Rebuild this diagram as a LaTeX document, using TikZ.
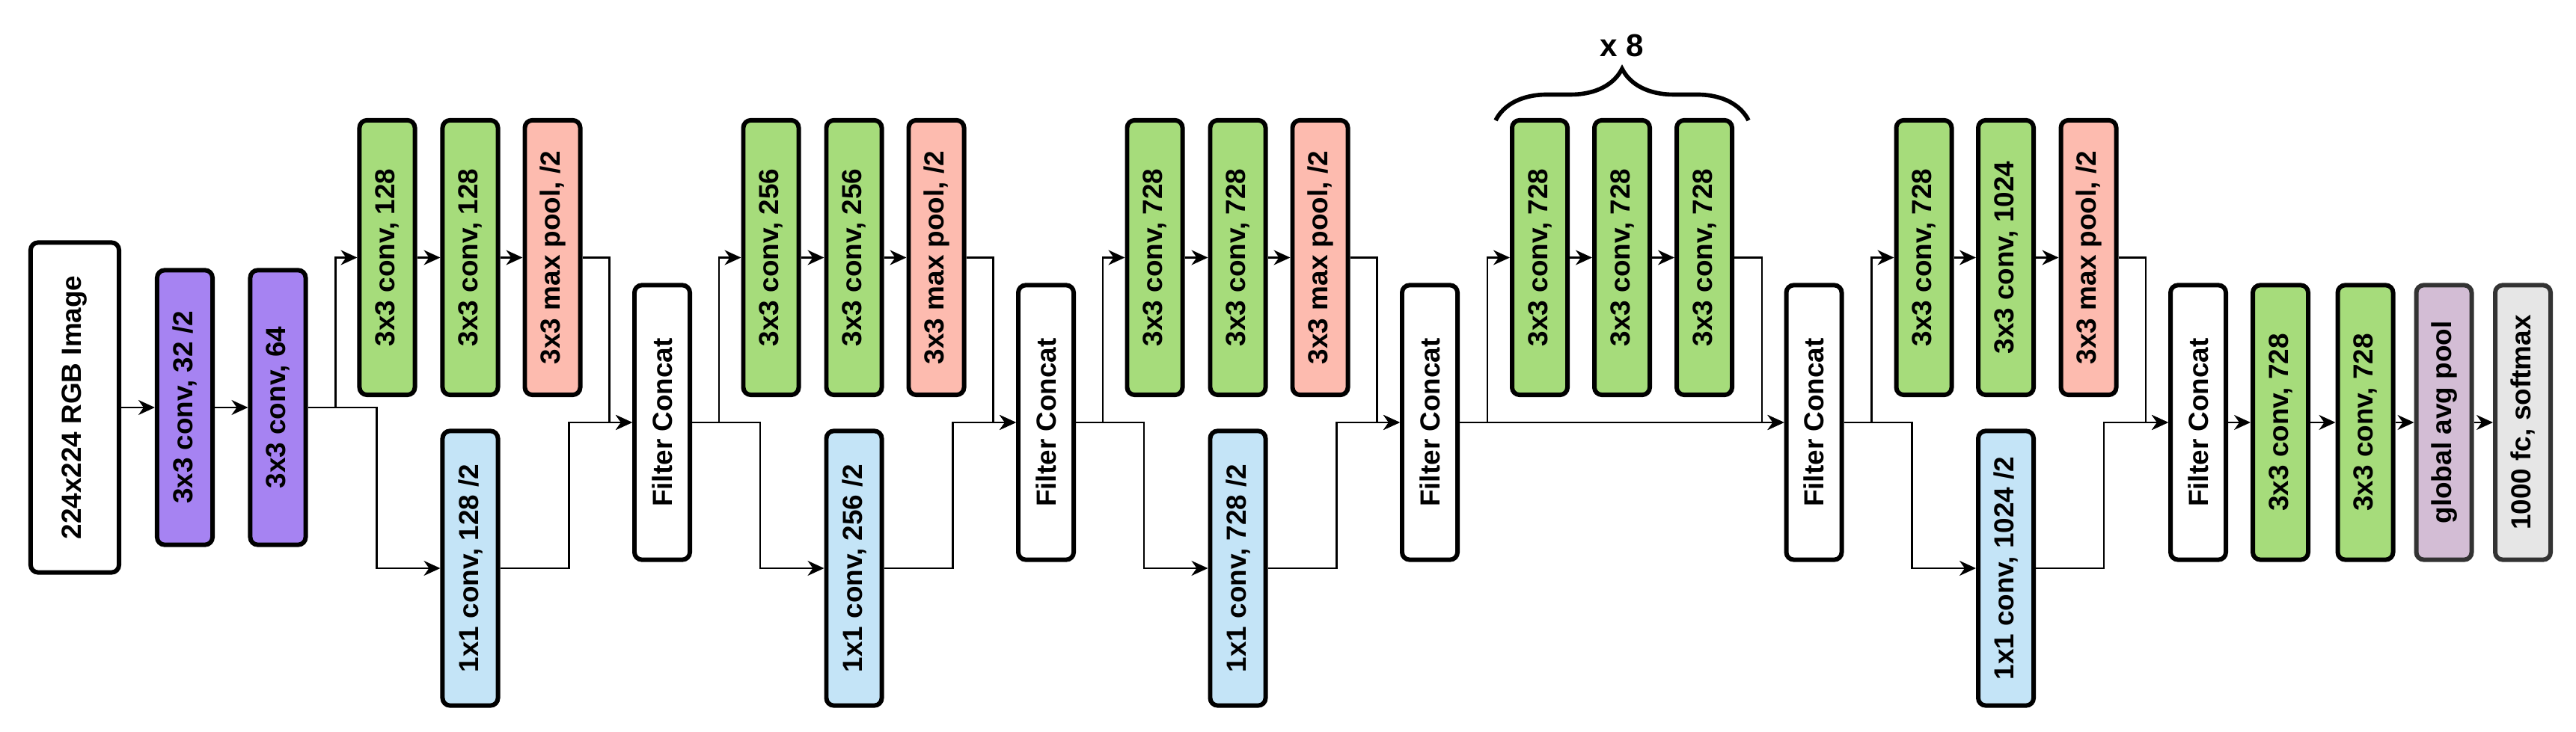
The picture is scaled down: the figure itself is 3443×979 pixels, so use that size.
\documentclass[tikz,border=0pt]{standalone}
\usepackage{fontspec}
\setmainfont{Liberation Sans}
\usetikzlibrary{arrows.meta,decorations.pathreplacing}
\definecolor{convgreen}{HTML}{A6DC7B}
\definecolor{stempurple}{HTML}{A683F2}
\definecolor{poolpink}{HTML}{FDBBAF}
\definecolor{skipblue}{HTML}{C4E4F7}
\definecolor{avglilac}{HTML}{D3BDD5}
\definecolor{fcgray}{HTML}{E6E6E6}

\begin{document}
\begin{tikzpicture}[x=0.01cm, y=0.01cm,
	box/.style={draw, line width=1.7pt, rounded corners=0.1cm, minimum width=0.74cm, minimum height=3.67cm, inner sep=0pt, font=\fontsize{10.5}{12}\selectfont\bfseries},
	conv/.style={box, fill=convgreen},
	stem/.style={box, fill=stempurple},
	pool/.style={box, fill=poolpink},
	skip/.style={box, fill=skipblue},
	cat/.style={box, fill=white},
	arr/.style={-{Stealth[length=0.22cm, width=0.2cm, inset=0.07cm]}, line width=0.6pt}]
	\useasboundingbox (0,0) rectangle (3443,979);

	% stem
	\node [box, minimum width=1.18cm, minimum height=4.41cm] (img) at (100, 434) {\rotatebox{90}{224x224 RGB Image}};
	\node [stem] (s1) at (247, 434) {\rotatebox{90}{3x3 conv, 32 /2}};
	\node [stem] (s2) at (371.5, 434) {\rotatebox{90}{3x3 conv, 64}};
	\draw [arr] (img.east) -- (s1.west);
	\draw [arr] (s1.east) -- (s2.west);

	% block 1
	\node [conv] (a11) at (517.5, 634.5) {\rotatebox{90}{3x3 conv, 128}};
	\node [conv] (a12) at (628.5, 634.5) {\rotatebox{90}{3x3 conv, 128}};
	\node [pool] (a13) at (738.5, 634.5) {\rotatebox{90}{3x3 max pool, /2}};
	\node [skip] (b1) at (628.5, 219) {\rotatebox{90}{1x1 conv, 128 /2}};
	\node [cat] (fc1) at (885, 414) {\rotatebox{90}{Filter Concat}};
	\draw [arr] (s2.east) -- ++(37,0) |- (a11.west);
	\draw [arr] (s2.east) -- ++(92,0) |- (b1.west);
	\draw [arr] (a11.east) -- (a12.west);
	\draw [arr] (a12.east) -- (a13.west);
	\draw [arr] (a13.east) -- ++(36,0) |- (fc1.west);
	\draw [arr] (b1.east) -- ++(92,0) |- (fc1.west);

	% block 2
	\node [conv] (a21) at (1030.5, 634.5) {\rotatebox{90}{3x3 conv, 256}};
	\node [conv] (a22) at (1141.5, 634.5) {\rotatebox{90}{3x3 conv, 256}};
	\node [pool] (a23) at (1251.5, 634.5) {\rotatebox{90}{3x3 max pool, /2}};
	\node [skip] (b2) at (1141.5, 219) {\rotatebox{90}{1x1 conv, 256 /2}};
	\node [cat] (fc2) at (1398, 414) {\rotatebox{90}{Filter Concat}};
	\draw [arr] (fc1.east) -- ++(36,0) |- (a21.west);
	\draw [arr] (fc1.east) -- ++(91,0) |- (b2.west);
	\draw [arr] (a21.east) -- (a22.west);
	\draw [arr] (a22.east) -- (a23.west);
	\draw [arr] (a23.east) -- ++(36,0) |- (fc2.west);
	\draw [arr] (b2.east) -- ++(92,0) |- (fc2.west);

	% block 3
	\node [conv] (a31) at (1543.5, 634.5) {\rotatebox{90}{3x3 conv, 728}};
	\node [conv] (a32) at (1654.5, 634.5) {\rotatebox{90}{3x3 conv, 728}};
	\node [pool] (a33) at (1764.5, 634.5) {\rotatebox{90}{3x3 max pool, /2}};
	\node [skip] (b3) at (1654.5, 219) {\rotatebox{90}{1x1 conv, 728 /2}};
	\node [cat] (fc3) at (1911, 414) {\rotatebox{90}{Filter Concat}};
	\draw [arr] (fc2.east) -- ++(36,0) |- (a31.west);
	\draw [arr] (fc2.east) -- ++(91,0) |- (b3.west);
	\draw [arr] (a31.east) -- (a32.west);
	\draw [arr] (a32.east) -- (a33.west);
	\draw [arr] (a33.east) -- ++(36,0) |- (fc3.west);
	\draw [arr] (b3.east) -- ++(92,0) |- (fc3.west);

	% middle flow, repeated
	\node [conv] (m1) at (2058, 634.5) {\rotatebox{90}{3x3 conv, 728}};
	\node [conv] (m2) at (2168, 634.5) {\rotatebox{90}{3x3 conv, 728}};
	\node [conv] (m3) at (2278, 634.5) {\rotatebox{90}{3x3 conv, 728}};
	\node [cat] (fc4) at (2424.5, 414) {\rotatebox{90}{Filter Concat}};
	\draw [arr] (fc3.east) -- ++(37,0) |- (m1.west);
	\draw [arr] (fc3.east) -- (fc4.west);
	\draw [arr] (m1.east) -- (m2.west);
	\draw [arr] (m2.east) -- (m3.west);
	\draw [arr] (m3.east) -- ++(37,0) |- (fc4.west);
	\draw [decorate, decoration={brace, amplitude=0.69cm}, line width=1.6pt] (1999, 818) -- (2337, 818);
	\node [font=\fontsize{12}{14}\selectfont\bfseries] (rep) at (2168, 918) {x 8};

	% block 5
	\node [conv] (a51) at (2571.5, 634.5) {\rotatebox{90}{3x3 conv, 728}};
	\node [conv] (a52) at (2681, 634.5) {\rotatebox{90}{3x3 conv, 1024}};
	\node [pool] (a53) at (2791.5, 634.5) {\rotatebox{90}{3x3 max pool, /2}};
	\node [skip] (b5) at (2681, 219) {\rotatebox{90}{1x1 conv, 1024 /2}};
	\node [cat] (fc5) at (2938, 414) {\rotatebox{90}{Filter Concat}};
	\draw [arr] (fc4.east) -- ++(37,0) |- (a51.west);
	\draw [arr] (fc4.east) -- ++(91,0) |- (b5.west);
	\draw [arr] (a51.east) -- (a52.west);
	\draw [arr] (a52.east) -- (a53.west);
	\draw [arr] (a53.east) -- ++(36,0) |- (fc5.west);
	\draw [arr] (b5.east) -- ++(91,0) |- (fc5.west);

	% exit
	\node [conv] (e1) at (3048, 414) {\rotatebox{90}{3x3 conv, 728}};
	\node [conv] (e2) at (3161.5, 414) {\rotatebox{90}{3x3 conv, 728}};
	\node [box, fill=avglilac, draw=black!80] (gap) at (3266.5, 414) {\rotatebox{90}{global avg pool}};
	\node [box, fill=fcgray, draw=black!80] (out) at (3372, 414) {\rotatebox{90}{1000 fc, softmax}};
	\draw [arr] (fc5.east) -- (e1.west);
	\draw [arr] (e1.east) -- (e2.west);
	\draw [arr] (e2.east) -- (gap.west);
	\draw [arr] (gap.east) -- (out.west);
\end{tikzpicture}
\end{document}
